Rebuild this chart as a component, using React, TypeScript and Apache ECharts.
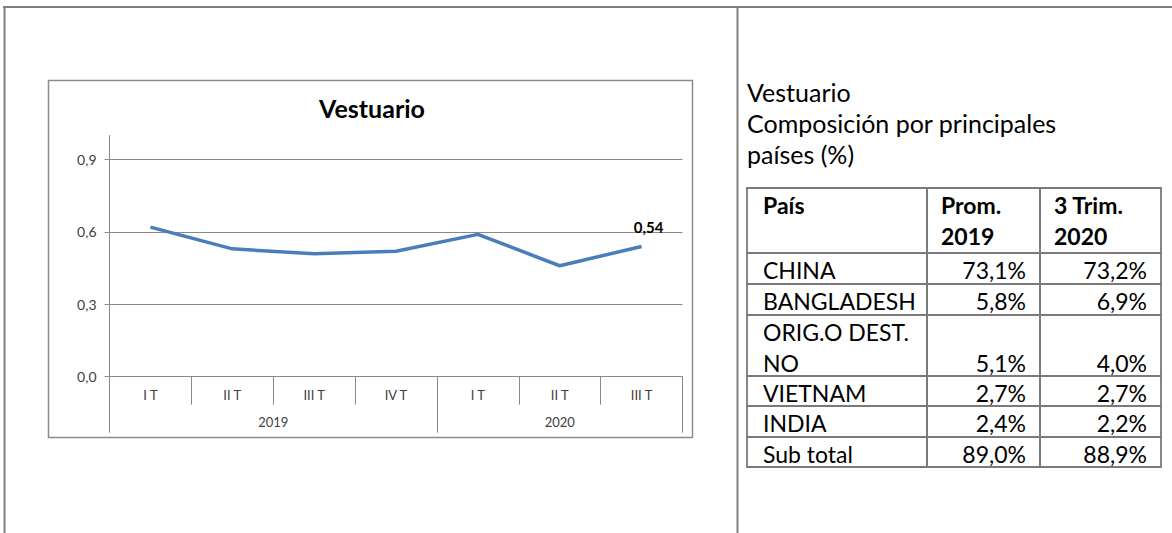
import React, { useEffect, useRef } from "react";
import * as echarts from "echarts";

// ---------- data ----------
const quarters = ["I T", "II T", "III T", "IV T", "I T", "II T", "III T"];
const years = ["2019", "2020"];
const yearSpans = [4, 3];
const values = [0.62, 0.53, 0.51, 0.52, 0.59, 0.46, 0.54];
const yTicks = [0, 0.3, 0.6, 0.9];
const yMax = 1.0;
const chartTitle = "Vestuario";
const sideTitle = ["Vestuario", "Composición por principales", "países (%)"];
const tableHeader = [["País"], ["Prom.", "2019"], ["3 Trim.", "2020"]];
const countries = [["CHINA"], ["BANGLADESH"], ["ORIG.O DEST.", "NO"], ["VIETNAM"], ["INDIA"], ["Sub total"]];
const prom2019 = ["73,1%", "5,8%", "5,1%", "2,7%", "2,4%", "89,0%"];
const trim2020 = ["73,2%", "6,9%", "4,0%", "2,7%", "2,2%", "88,9%"];

// ---------- layout ----------
const FONT = "Lato, 'Open Sans', sans-serif";
const GRAY = "#898989";
const colX = [747, 927, 1040, 1161];
const rowTops = [188, 253, 284, 315, 376, 406, 437, 467];
const LINE_H = 30.5;
const TABLE_FS = 23;
const SIDE_FS = 25;

const fmt = (v: number, d: number) => v.toFixed(d).replace(".", ",");

function buildTable(): any[] {
  const els: any[] = [];
  const rows: { cells: string[][]; bold: boolean }[] = [
    { cells: tableHeader, bold: true },
    ...countries.map((c, i) => ({ cells: [c, [prom2019[i]], [trim2020[i]]], bold: false })),
  ];
  rows.forEach((row, r) => {
    const top = rowTops[r];
    const h = rowTops[r + 1] - top;
    const nLines = Math.max(...row.cells.map((c) => c.length));
    for (let c = 0; c < 3; c++) {
      els.push({
        type: "rect",
        shape: { x: colX[c], y: top, width: colX[c + 1] - colX[c], height: h },
        style: { fill: "none", stroke: "#7a7a7a", lineWidth: 1.8 },
        silent: true,
      });
      const lines = row.cells[c];
      const isNum = r > 0 && c > 0;
      lines.forEach((t, li) => {
        const lineIdx = isNum ? nLines - 1 : li;
        els.push({
          type: "text",
          x: isNum ? colX[c + 1] - 14 : colX[c] + (c === 0 ? 16 : 14),
          y: top + 17 + LINE_H * lineIdx,
          style: {
            text: t,
            fill: "#000",
            font: `${row.bold ? "bold " : ""}${TABLE_FS}px ${FONT}`,
            align: isNum ? "right" : "left",
            verticalAlign: "middle",
          },
          silent: true,
        });
      });
    }
  });
  return els;
}

export default function App() {
  const ref = useRef<HTMLDivElement>(null);
  useEffect(() => {
    document.body.style.margin = "0";
    if (!ref.current) return;
    const chart = echarts.init(ref.current, undefined, { renderer: "svg" });

    const yearCenters: number[] = [];
    const yearBounds: number[] = [0];
    let acc = 0;
    yearSpans.forEach((s) => {
      yearCenters.push(acc + s / 2);
      acc += s;
      yearBounds.push(acc);
    });

    const seriesData = values.map((v, i) =>
      i === values.length - 1
        ? {
            value: v,
            label: {
              show: true,
              position: "top",
              distance: 12,
              offset: [7, 0],
              formatter: (p: any) => fmt(p.value, 2),
              fontFamily: FONT,
              fontWeight: "bold",
              fontSize: 15,
              color: "#000",
            },
          }
        : v
    );

    const option: any = {
      animation: false,
      backgroundColor: "#fff",
      grid: { left: 109.5, right: 489.5, top: 135.5, bottom: 156.3, containLabel: false },
      xAxis: [
        {
          type: "category",
          data: quarters,
          boundaryGap: true,
          axisLine: { show: true, lineStyle: { color: GRAY, width: 1 } },
          axisTick: { show: true, interval: 0, length: 28, lineStyle: { color: GRAY } },
          axisLabel: { interval: 0, margin: 12, fontFamily: FONT, fontSize: 13, color: "#404040" },
          splitLine: { show: false },
        },
        {
          type: "value",
          position: "bottom",
          min: 0,
          max: quarters.length,
          axisLine: { show: false },
          axisTick: { show: true, customValues: yearBounds, length: 56, lineStyle: { color: GRAY } },
          axisLabel: {
            customValues: yearCenters,
            margin: 39,
            fontFamily: FONT,
            fontSize: 13,
            color: "#404040",
            formatter: (v: number) => {
              const i = yearCenters.findIndex((c) => Math.abs(c - v) < 1e-6);
              return i >= 0 ? years[i] : "";
            },
          },
          splitLine: { show: false },
        },
      ],
      yAxis: {
        type: "value",
        min: 0,
        max: yMax,
        interval: 0.3,
        axisLine: { show: true, lineStyle: { color: GRAY, width: 1 } },
        axisTick: { show: true, customValues: yTicks, length: 5, lineStyle: { color: GRAY } },
        axisLabel: {
          customValues: yTicks,
          margin: 13,
          fontFamily: FONT,
          fontSize: 14,
          color: "#404040",
          formatter: (v: number) => (v > 0.95 ? "" : fmt(v, 1)),
        },
        splitLine: { show: false },
      },
      series: [
        {
          type: "line",
          data: seriesData,
          xAxisIndex: 0,
          yAxisIndex: 0,
          symbol: "circle",
          symbolSize: 0.01,
          showSymbol: true,
          lineStyle: { color: "#4A7EBB", width: 3.5 },
          itemStyle: { color: "#4A7EBB" },
          z: 3,
          markLine: {
            silent: true,
            symbol: "none",
            label: { show: false },
            lineStyle: { color: GRAY, width: 1, type: "solid" },
            data: yTicks.filter((v) => v > 0).map((v) => ({ yAxis: v })),
            z: 1,
          },
        },
      ],
      graphic: [
        { type: "line", shape: { x1: 3, y1: 7, x2: 1172, y2: 7 }, style: { stroke: "#808080", lineWidth: 2 }, silent: true },
        { type: "line", shape: { x1: 4.5, y1: 7, x2: 4.5, y2: 533 }, style: { stroke: "#808080", lineWidth: 2 }, silent: true },
        { type: "line", shape: { x1: 737.5, y1: 7, x2: 737.5, y2: 533 }, style: { stroke: "#808080", lineWidth: 2 }, silent: true },
        { type: "rect", shape: { x: 48.5, y: 80.5, width: 644, height: 357 }, style: { fill: "none", stroke: "#8c8c8c", lineWidth: 1.5 }, silent: true, z: -1 },
        {
          type: "text",
          x: 372,
          y: 108,
          style: { text: chartTitle, font: `bold 25px ${FONT}`, fill: "#000", align: "center", verticalAlign: "middle" },
          silent: true,
        },
        ...sideTitle.map((t, i) => ({
          type: "text",
          x: 747,
          y: 92 + 31 * i,
          style: { text: t, font: `${SIDE_FS}px ${FONT}`, fill: "#000", align: "left", verticalAlign: "middle" },
          silent: true,
        })),
        ...buildTable(),
      ],
    };
    chart.setOption(option);
    return () => chart.dispose();
  }, []);
  return <div ref={ref} style={{ width: 1172, height: 533, position: "absolute", left: 0, top: 0 }} />;
}
